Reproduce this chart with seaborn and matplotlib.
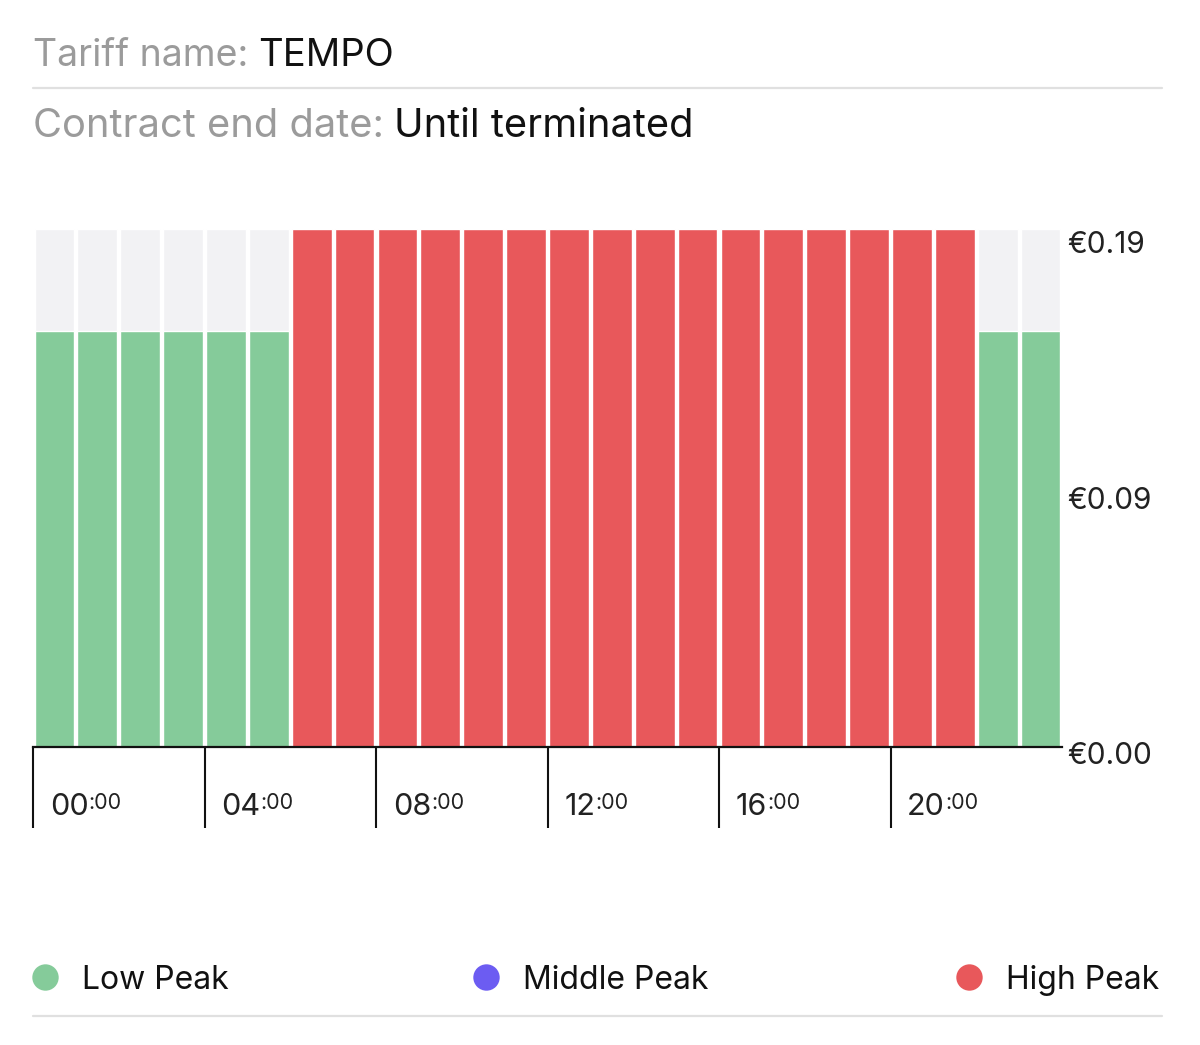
import numpy as np
import pandas as pd
import matplotlib
matplotlib.use("Agg")
import matplotlib.pyplot as plt
import matplotlib.transforms as mtransforms
from matplotlib.lines import Line2D
import seaborn as sns

# ---------------- data ----------------
hours = list(range(24))
peak_type = (["Low Peak"] * 6) + (["High Peak"] * 16) + (["Low Peak"] * 2)
price_by_peak = {"Low Peak": 0.1494, "Middle Peak": 0.1680, "High Peak": 0.1862}
prices = [price_by_peak[p] for p in peak_type]
y_max = 0.1862
y_ticks = [0.0, y_max / 2, y_max]
y_tick_labels = ["€0.00", "€0.09", "€0.19"]
x_tick_hours = ["00", "04", "08", "12", "16", "20"]
x_tick_minutes = ":00"
legend_labels = ["Low Peak", "Middle Peak", "High Peak"]
tariff_name = "TEMPO"
contract_end = "Until terminated"

colors = {"Low Peak": "#85CB9A", "Middle Peak": "#6C5CF2", "High Peak": "#E8585B"}
bg_color = "#F2F2F4"

df = pd.DataFrame({"hour": hours, "price": prices, "peak": peak_type,
                   "max": [y_max] * len(hours)})

# ---------------- figure ----------------
sns.set_theme(style="white")
plt.rcParams["font.family"] = ["Inter", "DejaVu Sans"]

W, H = 1200, 1045
fig = plt.figure(figsize=(W / 100, H / 100), dpi=100)
fig.patch.set_facecolor("white")

def fx(px):
    return px / W

def fy(py):
    return 1 - py / H

ax_left, ax_right, ax_top, ax_bottom = 33, 1062, 229, 747
ax = fig.add_axes([fx(ax_left), fy(ax_bottom), (ax_right - ax_left) / W,
                   (ax_bottom - ax_top) / H])
ax.set_facecolor("white")

# background bars
sns.barplot(data=df, x="hour", y="max", color=bg_color, width=0.93,
            saturation=1, ax=ax, order=hours)
# price bars
sns.barplot(data=df, x="hour", y="price", hue="peak", palette=colors,
            dodge=False, width=0.93, saturation=1, legend=False, ax=ax,
            order=hours)

ax.set_xlim(-0.5, 23.5)
ax.set_ylim(0, y_max)
ax.set_xlabel("")
ax.set_ylabel("")
for s in ["top", "left", "right"]:
    ax.spines[s].set_visible(False)
ax.spines["bottom"].set_color("#111111")
ax.spines["bottom"].set_linewidth(1.6)

# x ticks: long lines at hour boundaries
tick_pos = [-0.5 + 4 * i for i in range(len(x_tick_hours))]
ax.set_xticks(tick_pos)
ax.set_xticklabels([""] * len(tick_pos))
ax.tick_params(axis="x", direction="out", length=58, width=1.5,
               color="#111111", bottom=True)

for pos, hh in zip(tick_pos, x_tick_hours):
    t = ax.annotate(hh, xy=(pos, 0), xycoords=("data", "axes fraction"),
                    xytext=(12, -49), textcoords="offset points",
                    ha="left", va="baseline", fontsize=22, color="#222222")
    ax.annotate(x_tick_minutes, xy=(1, 1), xycoords=t, xytext=(0, 0),
                textcoords="offset points", ha="left", va="top",
                fontsize=15.5, color="#222222")

# y ticks on the right
ax.yaxis.tick_right()
ax.set_yticks(y_ticks)
ax.set_yticklabels(y_tick_labels)
ax.tick_params(axis="y", length=0, pad=4, labelsize=21.5, labelcolor="#222222")
offsets = [-6, -10, -13]
for lab, off in zip(ax.get_yticklabels(), offsets):
    lab.set_transform(lab.get_transform() +
                      mtransforms.ScaledTranslation(0, off / 100, fig.dpi_scale_trans))

# ---------------- header ----------------
t1 = fig.text(fx(33), fy(66), "Tariff name:", fontsize=27, color="#9B9B9B",
              ha="left", va="baseline")
ax.annotate(tariff_name, xy=(1, 0), xycoords=t1, xytext=(7, 0),
            textcoords="offset points", ha="left", va="bottom",
            fontsize=27.5, color="#111111", annotation_clip=False)
t2 = fig.text(fx(33), fy(137), "Contract end date:", fontsize=28.7, color="#9B9B9B",
              ha="left", va="baseline")
ax.annotate(contract_end, xy=(1, 0), xycoords=t2, xytext=(7, 0),
            textcoords="offset points", ha="left", va="bottom",
            fontsize=28.7, color="#111111", annotation_clip=False)

# separators
for ypx in (88, 1016):
    fig.add_artist(Line2D([fx(33), fx(1162)], [fy(ypx), fy(ypx)],
                          color="#E0E0E0", linewidth=1.6,
                          transform=fig.transFigure))

# ---------------- legend ----------------
legend_circle_x = [45, 486, 969]
legend_text_x = [82, 523, 1006]
for lab, cx, tx in zip(legend_labels, legend_circle_x, legend_text_x):
    fig.add_artist(Line2D([fx(cx)], [fy(977)], marker="o", markersize=19,
                          markerfacecolor=colors[lab], markeredgewidth=0,
                          linestyle="none", transform=fig.transFigure))
    fig.text(fx(tx), fy(977), lab, fontsize=23, color="#111111",
             ha="left", va="center_baseline")

fig.savefig("out.png", dpi=100, facecolor="white")
